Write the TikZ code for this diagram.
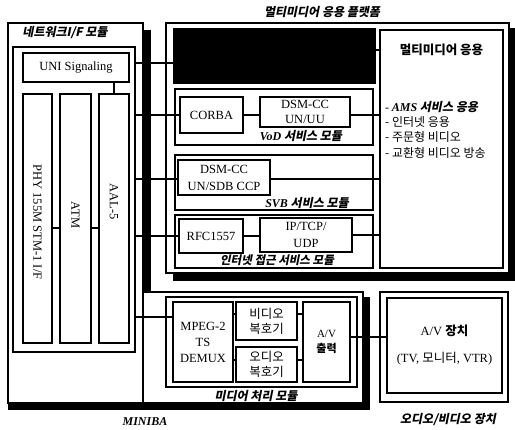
\documentclass[tikz,border=0pt]{standalone}
\usepackage{fontspec}
\setmainfont{Liberation Serif}
\newfontfamily\kr{Noto Sans CJK KR}
\newfontfamily\krsl[FakeSlant=0.2]{Noto Sans CJK KR}
\usetikzlibrary{positioning}

\begin{document}
\begin{tikzpicture}[x=1pt, y=-1pt,
  box/.style={draw, line width=1.2pt, inner sep=0pt, align=center, font=\fontsize{12.5}{15}\selectfont},
  krbox/.style={box, font=\fontsize{12.5}{15}\selectfont\kr},
  frame/.style={draw, line width=1.2pt, inner sep=0pt},
  wire/.style={line width=1.2pt},
  lbl/.style={inner sep=0pt, font=\fontsize{12}{14}\selectfont\krsl\bfseries}]
\useasboundingbox (0,0) rectangle (515,430);

% shadows
\fill (143,30) rectangle (151,292);
\fill (509,28) rectangle (516,281);
\fill (173,273) rectangle (516,281);
\fill (363,297) rectangle (370,410);
\fill (8,403) rectangle (370,410);

% network I/F module
\node[frame, minimum width=135pt, minimum height=380pt] (netmod) at (75.5,213) {};
\node[frame, minimum width=122pt, minimum height=305pt] (netin) at (74,199.5) {};
\node[lbl] (netlbl) at (65,33) {네트워크I/F 모듈};
\node[box, minimum width=106pt, minimum height=29pt] (uni) at (76,67.5) {UNI Signaling};
\node[box, minimum width=29pt, minimum height=249pt] (phy) at (37.5,218.5) {};
\node[box, minimum width=31pt, minimum height=249pt] (atm) at (75.5,218.5) {};
\node[box, minimum width=30pt, minimum height=249pt] (aal) at (114,218.5) {};
\node[rotate=-90, font=\fontsize{12.5}{15}\selectfont] (phytxt) at (37.5,222) {PHY 155M STM-1 I/F};
\node[rotate=-90, font=\fontsize{12.5}{15}\selectfont] (atmtxt) at (75.5,215) {ATM};
\node[rotate=-90, font=\fontsize{12.5}{15}\selectfont] (aaltxt) at (114,202) {AAL-5};

% multimedia platform
\node[frame, fill=white, minimum width=343pt, minimum height=250pt] (plat) at (337.5,148) {};
\node[lbl] (platlbl) at (322,12) {멀티미디어 응용 플랫폼};
\node[draw, fill=black, minimum width=202pt, minimum height=55pt] (black) at (274,55.5) {};
\node[frame, minimum width=123pt, minimum height=238pt] (app) at (441.5,149) {};
\node[inner sep=0pt, font=\fontsize{12.5}{15}\selectfont\kr\bfseries, below=14pt of app.north] (apptitle) {멀티미디어 응용};
\node[anchor=north west, align=left, inner sep=0pt, font=\fontsize{12}{15.3}\selectfont\kr] (applist) at (385,101)
  {{\rmfamily -} {\rmfamily\bfseries\itshape AMS} {\krsl\bfseries 서비스 응용}\\- 인터넷 응용\\- 주문형 비디오\\- 교환형 비디오 방송};

\node[frame, minimum width=198pt, minimum height=56pt] (vod) at (274,117) {};
\node[box, minimum width=63pt, minimum height=36pt] (corba) at (211.5,115) {CORBA};
\node[box, minimum width=90pt, minimum height=30pt] (dsmuu) at (305,112) {DSM-CC\\UN/UU};
\node[lbl] (vodlbl) at (301,136) {{\rmfamily\itshape VoD} 서비스 모듈};

\node[frame, minimum width=198pt, minimum height=55pt] (svb) at (274,182.5) {};
\node[box, minimum width=92pt, minimum height=35pt, font=\fontsize{12.5}{17}\selectfont] (dsmsdb) at (224,177.5) {DSM-CC\\UN/SDB CCP};
\node[lbl] (svblbl) at (307,203) {{\rmfamily\itshape SVB} 서비스 모듈};

\node[frame, minimum width=198pt, minimum height=53pt] (inet) at (274,241.5) {};
\node[box, minimum width=64pt, minimum height=34pt] (rfc) at (211,236) {RFC1557};
\node[box, minimum width=92pt, minimum height=34pt, font=\fontsize{12.5}{17}\selectfont] (ip) at (306,235) {IP/TCP/\\UDP};
\node[lbl, font=\fontsize{11.5}{13}\selectfont\krsl\bfseries] (inetlbl) at (277,260) {인터넷 접근 서비스 모듈};

% media processing
\node[frame, fill=white, minimum width=220pt, minimum height=111pt] (media) at (253,347.5) {};
\node[frame, minimum width=191pt, minimum height=90pt] (mmod) at (261.5,342) {};
\node[box, minimum width=60pt, minimum height=80pt, font=\fontsize{12.5}{16}\selectfont] (demux) at (203,342) {MPEG-2\\TS\\DEMUX};
\node[krbox, minimum width=61pt, minimum height=38pt] (vdec) at (266.5,321) {비디오\\복호기};
\node[krbox, minimum width=61pt, minimum height=35pt] (adec) at (266.5,364.5) {오디오\\복호기};
\node[box, minimum width=47pt, minimum height=80pt, font=\fontsize{11}{15}\selectfont] (avout) at (326.5,342) {A/V\\{\kr\bfseries 출력}};
\node[lbl] (medlbl) at (256,396) {미디어 처리 모듈};
\node[inner sep=0pt, font=\fontsize{12}{14}\selectfont\bfseries\itshape] (miniba) at (145,422) {MINIBA};

% audio/video device
\node[frame, minimum width=128pt, minimum height=110pt] (devo) at (444,347) {};
\node[box, minimum width=115pt, minimum height=95pt] (devi) at (444.5,345.5) {A/V {\kr\bfseries 장치}\\[12pt](TV, {\kr 모니터}, VTR)};
\node[lbl] (devlbl) at (448,420) {오디오/비디오 장치};

% connectors
\coordinate (blkin) at ([yshift=-7.5pt]black.west);
\coordinate (blkout) at ([yshift=5.5pt]black.east);
\coordinate (pa) at ([yshift=-9.5pt]phy.east);
\coordinate (sv) at ([yshift=-1.5pt]dsmsdb.west);
\coordinate (dmx) at ([yshift=25pt]demux.west);
\coordinate (vd) at ([yshift=7pt]vdec.west);
\coordinate (ad) at ([yshift=4.5pt]adec.west);
\coordinate (av) at ([yshift=5pt]avout.east);
\draw[wire] (netin.east |- blkin) -- (blkin);
\draw[wire] (blkout) -- (app.west |- blkout);
\draw[wire] (aal.north) -- (aal.north |- uni.south);
\draw[wire] (pa) -- (atm.west |- pa);
\draw[wire] (atm.east |- pa) -- (aal.west |- pa);
\draw[wire] (netin.east |- corba.west) -- (corba.west);
\draw[wire] (corba.east) -- (dsmuu.west |- corba.east);
\draw[wire] (dsmuu.east |- corba.east) -- (app.west |- corba.east);
\draw[wire] (netin.east |- sv) -- (sv);
\draw[wire] (dsmsdb.east |- sv) -- (app.west |- sv);
\draw[wire] (netin.east |- rfc.west) -- (rfc.west);
\draw[wire] (rfc.east) -- (ip.west |- rfc.east);
\draw[wire] (ip.east) -- (app.west |- ip.east);
\draw[wire] (netin.east |- dmx) -- (dmx);
\fill (netmod.east |- dmx) circle (1.8pt);
\draw[wire] (demux.east |- vd) -- (vd);
\draw[wire] (vdec.east |- vd) -- (avout.west |- vd);
\draw[wire] (demux.east |- ad) -- (ad);
\draw[wire] (adec.east |- ad) -- (avout.west |- ad);
\draw[wire] (av) -- (devi.west |- av);
\end{tikzpicture}
\end{document}
